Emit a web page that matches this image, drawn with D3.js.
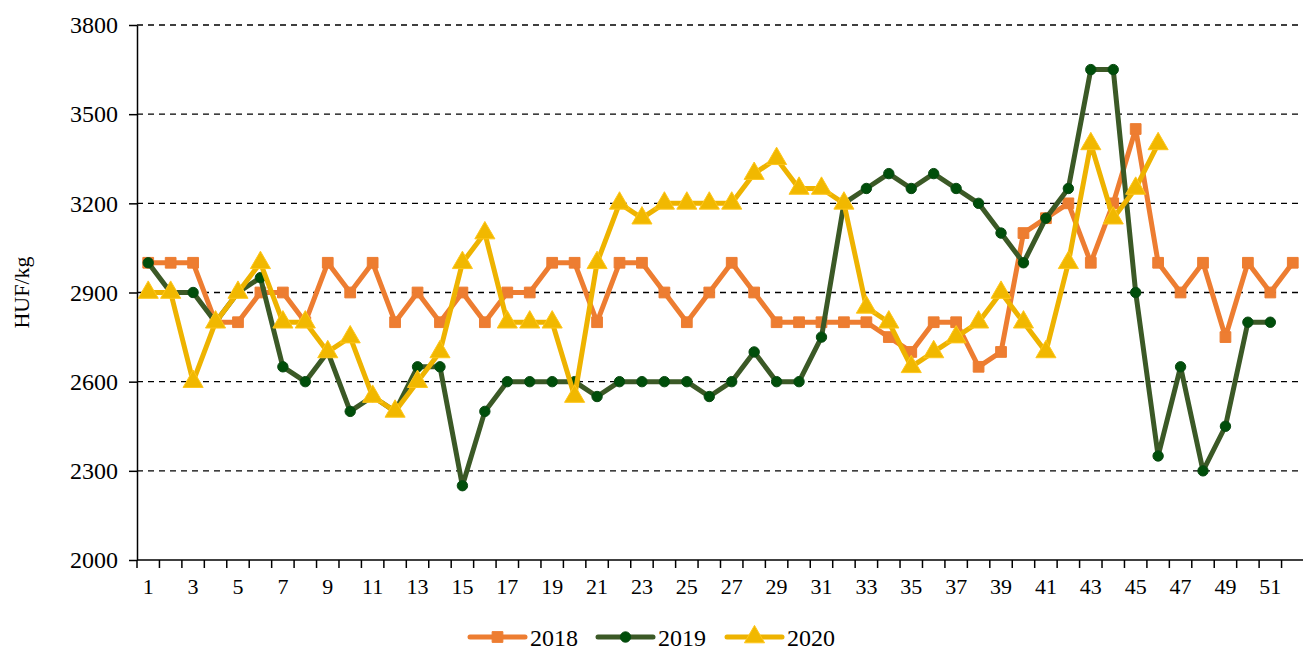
<!DOCTYPE html>
<html>
<head>
<meta charset="utf-8">
<script src="https://cdn.jsdelivr.net/npm/d3@7"></script>
<style>
  body { margin: 0; background: #fff; }
  text { font-family: "Liberation Serif", "Times New Roman", serif; fill: #000; }
</style>
</head>
<body>
<script>
var width = 1303, height = 650;
var margin = {top: 25, right: 0, bottom: 90, left: 137};

// weeks 1..52
var weeks = d3.range(1, 53);
var yTicks = [2000, 2300, 2600, 2900, 3200, 3500, 3800];

var v2018 = [3000,3000,3000,2800,2800,2900,2900,2800,3000,2900,3000,2800,2900,2800,2900,2800,2900,2900,3000,3000,
	2800,3000,3000,2900,2800,2900,3000,2900,2800,2800,2800,2800,2800,2750,2700,2800,2800,2650,2700,3100,
	3150,3200,3000,3200,3450,3000,2900,3000,2750,3000,2900,3000];
var v2019 = [3000,2900,2900,2800,2900,2950,2650,2600,2700,2500,2550,2500,2650,2650,2250,2500,2600,2600,2600,2600,
	2550,2600,2600,2600,2600,2550,2600,2700,2600,2600,2750,3200,3250,3300,3250,3300,3250,3200,3100,3000,
	3150,3250,3650,3650,2900,2350,2650,2300,2450,2800,2800];
var v2020 = [2900,2900,2600,2800,2900,3000,2800,2800,2700,2750,2550,2500,2600,2700,3000,3100,2800,2800,2800,2550,
	3000,3200,3150,3200,3200,3200,3200,3300,3350,3250,3250,3200,2850,2800,2650,2700,2750,2800,2900,2800,
	2700,3000,3400,3150,3250,3400];

var series = [
	{name: "2018", values: v2018, line: "#ED7D31", fill: "#ED7D31", stroke: "#ED7D31", shape: d3.symbolSquare, size: 115},
	{name: "2019", values: v2019, line: "#3B5926", fill: "#004E0A", stroke: "#0A4A12", shape: d3.symbolCircle, size: 85},
	{name: "2020", values: v2020, line: "#EEB300", fill: "#F1B800", stroke: "#FFC61A", shape: d3.symbolTriangle, size: 175}
];

var svg = d3.select("body").append("svg")
	.attr("width", width)
	.attr("height", height);

var x = d3.scaleBand()
	.domain(weeks)
	.range([margin.left, width + 1]);

var y = d3.scaleLinear()
	.domain([2000, 3800])
	.range([height - margin.bottom, margin.top]);

// dashed grid
svg.append("g")
	.selectAll("line")
	.data(yTicks.slice(1))
	.enter().append("line")
	.attr("x1", margin.left)
	.attr("x2", width)
	.attr("y1", function(d) { return y(d); })
	.attr("y2", function(d) { return y(d); })
	.attr("stroke", "#000")
	.attr("stroke-width", 1.3)
	.attr("stroke-dasharray", "6,5");

// y axis
var yAxis = svg.append("g")
	.attr("transform", "translate(" + margin.left + ",0)")
	.call(d3.axisLeft(y).tickValues(yTicks).tickFormat(d3.format("d"))
		.tickSize(8).tickPadding(11).tickSizeOuter(0));
yAxis.select(".domain").attr("stroke-width", 1.5);
yAxis.selectAll(".tick line").attr("stroke-width", 1.5);
yAxis.selectAll("text")
	.style("font-size", "24px")
	.style("font-family", "Liberation Serif")
	.attr("fill", "#000");

// x axis: ticks between weeks, labels on odd weeks
var xg = svg.append("g")
	.attr("transform", "translate(0," + y(2000) + ")");
xg.append("line")
	.attr("x1", margin.left)
	.attr("x2", width)
	.attr("stroke", "#000")
	.attr("stroke-width", 1.5);
xg.selectAll(".xt")
	.data(weeks)
	.enter().append("line")
	.attr("class", "xt")
	.attr("x1", function(d) { return x(d); })
	.attr("x2", function(d) { return x(d); })
	.attr("y1", 0)
	.attr("y2", 8)
	.attr("stroke", "#000")
	.attr("stroke-width", 1.5);
xg.selectAll(".xl")
	.data(weeks.filter(function(d) { return d % 2 == 1; }))
	.enter().append("text")
	.attr("class", "xl")
	.attr("x", function(d) { return x(d) + x.bandwidth() / 2; })
	.attr("y", 34)
	.attr("text-anchor", "middle")
	.style("font-size", "22px")
	.text(function(d) { return d; });

// y title
svg.append("text")
	.attr("transform", "translate(29," + (y(2900)) + ") rotate(-90)")
	.attr("text-anchor", "middle")
	.style("font-size", "22px")
	.text("HUF/kg");

var line = d3.line()
	.x(function(d, i) { return x(weeks[i]) + x.bandwidth() / 2; })
	.y(function(d) { return y(d); });

series.forEach(function(s) {
	var g = svg.append("g");
	g.append("path")
		.datum(s.values)
		.attr("d", line)
		.attr("fill", "none")
		.attr("stroke", s.line)
		.attr("stroke-width", 5)
		.attr("stroke-linejoin", "round");
	g.selectAll("path.m")
		.data(s.values)
		.enter().append("path")
		.attr("class", "m")
		.attr("d", d3.symbol().type(s.shape).size(s.size))
		.attr("transform", function(d, i) {
			return "translate(" + (x(weeks[i]) + x.bandwidth() / 2) + "," + y(d) + ")";
		})
		.attr("fill", s.fill)
		.attr("stroke", s.stroke)
		.attr("stroke-width", 1);
});

// legend
var legend = svg.append("g")
	.attr("transform", "translate(470,637)");
var lx = [0, 128, 257];
series.forEach(function(s, i) {
	var lg = legend.append("g").attr("transform", "translate(" + lx[i] + ",0)");
	lg.append("line")
		.attr("x1", 0).attr("x2", 55)
		.attr("stroke", s.line)
		.attr("stroke-width", 5)
		.attr("stroke-linecap", "round");
	lg.append("path")
		.attr("d", d3.symbol().type(s.shape).size(s.size))
		.attr("transform", "translate(27.5,0)")
		.attr("fill", s.fill)
		.attr("stroke", s.stroke);
	lg.append("text")
		.attr("x", 60)
		.attr("y", 9)
		.style("font-size", "24px")
		.text(s.name);
});
</script>
</body>
</html>
